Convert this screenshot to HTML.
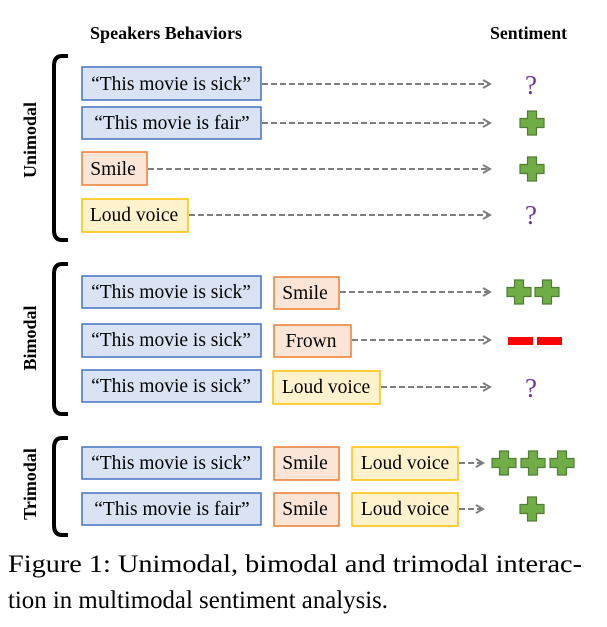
<!DOCTYPE html>
<html><head><meta charset="utf-8"><style>
html,body{margin:0;padding:0;background:#fff;}
svg{display:block;font-family:"Liberation Serif",serif;}
</style></head><body>
<svg width="607" height="627" viewBox="0 0 607 627">
<defs>
<marker id="ah" markerWidth="10" markerHeight="10" refX="8" refY="5" orient="auto" markerUnits="userSpaceOnUse">
<path d="M1,1 L8,5 L1,9" fill="none" stroke="#7f7f7f" stroke-width="2"/>
</marker>
<g id="plus"><path d="M-4.5,-12 H4.5 V-4.5 H12 V4.5 H4.5 V12 H-4.5 V4.5 H-12 V-4.5 H-4.5 Z" fill="#70ad47" stroke="#507e32" stroke-width="1.2"/></g>
</defs>
<text x="90" y="39" font-size="18" font-weight="bold" textLength="152" lengthAdjust="spacingAndGlyphs">Speakers Behaviors</text>
<text x="490" y="39" font-size="18" font-weight="bold" textLength="77" lengthAdjust="spacingAndGlyphs">Sentiment</text>

<g fill="none" stroke="#000" stroke-width="4">
<path d="M68,56 H62 Q54,56 54,66 V230 Q54,240 62,240 H68"/>
<path d="M68,264 H62 Q54,264 54,274 V404 Q54,414 62,414 H68"/>
<path d="M68,438 H62 Q54,438 54,448 V525 Q54,535 62,535 H68"/>
</g>
<g font-size="18" font-weight="bold" text-anchor="middle">
<text transform="translate(36,140) rotate(-90)">Unimodal</text>
<text transform="translate(36,338) rotate(-90)">Bimodal</text>
<text transform="translate(36,484) rotate(-90)">Trimodal</text>
</g>

<g font-size="19.5" text-anchor="middle">
<g fill="#dae3f3" stroke="#4472c4" stroke-width="1.5">
<rect x="82" y="67" width="179" height="33"/>
<rect x="82" y="107" width="179" height="32"/>
<rect x="82" y="276" width="179" height="32"/>
<rect x="82" y="324" width="179" height="33"/>
<rect x="82" y="370" width="179" height="32"/>
<rect x="82" y="447" width="179" height="32"/>
<rect x="82" y="493" width="179" height="32"/>
</g>
<g fill="#fbe5d6" stroke="#ed7d31" stroke-width="1.5">
<rect x="82" y="152" width="65" height="33"/>
<rect x="274" y="277" width="65" height="32"/>
<rect x="274" y="325" width="77" height="32"/>
<rect x="274" y="447" width="65" height="33"/>
<rect x="274" y="493" width="65" height="33"/>
</g>
<g fill="#fff2cc" stroke="#ffc000" stroke-width="1.5">
<rect x="82" y="199" width="106" height="33"/>
<rect x="273" y="371" width="107" height="33"/>
<rect x="352" y="447" width="106" height="33"/>
<rect x="352" y="493" width="106" height="33"/>
</g>
<g fill="#000">
<text x="171" y="90">“This movie is sick”</text>
<text x="172" y="129">“This movie is fair”</text>
<text x="113" y="175">Smile</text>
<text x="134" y="221">Loud voice</text>
<text x="171" y="298">“This movie is sick”</text>
<text x="171" y="346">“This movie is sick”</text>
<text x="171" y="392">“This movie is sick”</text>
<text x="171" y="469">“This movie is sick”</text>
<text x="172" y="515">“This movie is fair”</text>
<text x="305" y="299">Smile</text>
<text x="311" y="347">Frown</text>
<text x="326" y="393">Loud voice</text>
<text x="305" y="469">Smile</text>
<text x="305" y="515">Smile</text>
<text x="405" y="469">Loud voice</text>
<text x="405" y="515">Loud voice</text>
</g>
</g>

<g stroke="#7f7f7f" stroke-width="2" stroke-dasharray="6,3" marker-end="url(#ah)">
<line x1="262" y1="84" x2="490" y2="84"/>
<line x1="262" y1="123" x2="490" y2="123"/>
<line x1="148" y1="169" x2="490" y2="169"/>
<line x1="189" y1="215" x2="490" y2="215"/>
<line x1="340" y1="292" x2="490" y2="292"/>
<line x1="352" y1="340" x2="490" y2="340"/>
<line x1="381" y1="387" x2="490" y2="387"/>
<line x1="459" y1="463" x2="483" y2="463"/>
<line x1="459" y1="509" x2="483" y2="509"/>
</g>

<g font-size="27" fill="#7030a0" text-anchor="middle">
<text x="531" y="94">?</text>
<text x="531" y="224">?</text>
<text x="531" y="397">?</text>
</g>
<use href="#plus" x="532" y="123"/>
<use href="#plus" x="532" y="169"/>
<use href="#plus" x="519" y="292"/>
<use href="#plus" x="547" y="292"/>
<use href="#plus" x="504" y="463"/>
<use href="#plus" x="533" y="463"/>
<use href="#plus" x="562" y="463"/>
<use href="#plus" x="532" y="509"/>
<rect x="508" y="337" width="25" height="8" fill="#ff0000"/>
<rect x="537" y="337" width="25" height="8" fill="#ff0000"/>

<g font-size="25" fill="#000">
<text x="8" y="572" textLength="574" lengthAdjust="spacingAndGlyphs">Figure 1: Unimodal, bimodal and trimodal interac-</text>
<text x="8" y="608" textLength="380" lengthAdjust="spacingAndGlyphs">tion in multimodal sentiment analysis.</text>
</g>
</svg>
</body></html>
